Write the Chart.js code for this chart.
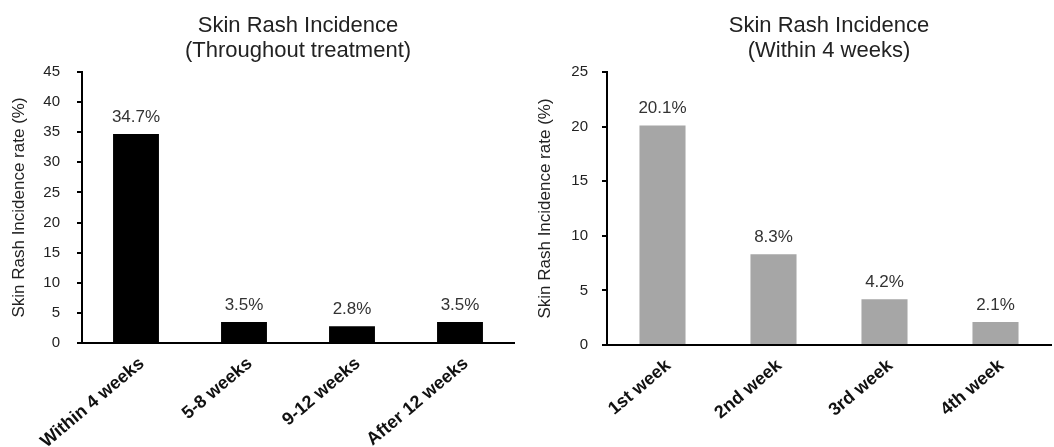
<!DOCTYPE html>
<html lang="en">
<head>
  <meta charset="UTF-8">
  <title>Skin Rash Incidence</title>
  <script src="https://cdn.jsdelivr.net/npm/chart.js"></script>
  <style>
    body { margin: 0; background: #fff; }
    #wrap { display: flex; width: 1054px; height: 447px; }
  </style>
</head>
<body>
  <div id="wrap">
    <canvas id="grafico1" width="520" height="447"></canvas>
    <canvas id="grafico2" width="534" height="447"></canvas>
  </div>

<script>
  // dados
  const periodos = ['Within 4 weeks', '5-8 weeks', '9-12 weeks', 'After 12 weeks'];
  const taxaPeriodo = [34.7, 3.5, 2.8, 3.5];
  const semanas = ['1st week', '2nd week', '3rd week', '4th week'];
  const taxaSemana = [20.1, 8.3, 4.2, 2.1];
  const eixoMax1 = 45;
  const eixoMax2 = 25;
  const passo = 5;

  const fonte = '"Liberation Sans", Arial, sans-serif';
  Chart.defaults.font.family = fonte;
  Chart.defaults.color = '#222';

  // rotulos com % em cima das barras
  const rotulosBarras = {
    id: 'rotulosBarras',
    afterDatasetsDraw(chart) {
      const ctx = chart.ctx;
      const meta = chart.getDatasetMeta(0);
      const dados = chart.data.datasets[0].data;
      ctx.save();
      ctx.font = '17px ' + fonte;
      ctx.fillStyle = '#333';
      ctx.textAlign = 'center';
      ctx.textBaseline = 'middle';
      meta.data.forEach((barra, i) => {
        ctx.fillText(dados[i].toFixed(1) + '%', barra.x, barra.y - 17);
      });
      ctx.restore();
    }
  };

  function plotarGrafico(idGrafico, labels, valores, cor, titulo, maxY, cfg) {
    const config = {
      type: 'bar',
      data: {
        labels: labels,
        datasets: [{
          data: valores,
          backgroundColor: cor,
          barPercentage: cfg.barra,
          categoryPercentage: 1
        }]
      },
      options: {
        responsive: false,
        animation: false,
        layout: { padding: { left: 0, right: cfg.direita, top: 0, bottom: 0 } },
        plugins: {
          legend: { display: false },
          tooltip: { enabled: false },
          title: {
            display: true,
            fullSize: false, // centraliza sobre a area do grafico
            text: titulo,
            color: '#222',
            font: { size: 22, weight: 'normal', lineHeight: 1.15 },
            padding: { top: 13, bottom: 8.4 }
          }
        },
        scales: {
          x: {
            grid: { display: false, drawTicks: false },
            border: { display: true, color: '#000', width: 2 },
            ticks: {
              color: '#111',
              font: { size: 18, weight: 'bold' },
              minRotation: 40,
              maxRotation: 40,
              padding: 10,
              labelOffset: 6
            },
            afterFit(scale) { scale.height = cfg.baixo; }
          },
          y: {
            min: 0,
            max: maxY,
            grid: { drawOnChartArea: false, drawTicks: true, tickLength: 5, color: '#000', lineWidth: 2 },
            border: { display: true, color: '#000', width: 2 },
            ticks: { stepSize: passo, color: '#222', font: { size: 15 }, padding: cfg.pad },
            title: {
              display: true,
              text: 'Skin Rash Incidence rate (%)',
              color: '#222',
              font: { size: 17 },
              padding: { top: cfg.tituloY, bottom: 0 }
            },
            afterFit(scale) { scale.width = cfg.largura; }
          }
        }
      },
      plugins: [rotulosBarras]
    };

    let myChart = new Chart(document.getElementById(`grafico${idGrafico}`), config);
    myChart.update();
  }

  plotarGrafico(1, periodos, taxaPeriodo, '#000000',
    ['Skin Rash Incidence', '(Throughout treatment)'], eixoMax1,
    { barra: 0.425, direita: 6, baixo: 104, largura: 82, pad: 17, tituloY: 9 });

  plotarGrafico(2, semanas, taxaSemana, '#a6a6a6',
    ['Skin Rash Incidence', '(Within 4 weeks)'], eixoMax2,
    { barra: 0.415, direita: 3, baixo: 102, largura: 87, pad: 14, tituloY: 15 });
</script>
</body>
</html>
